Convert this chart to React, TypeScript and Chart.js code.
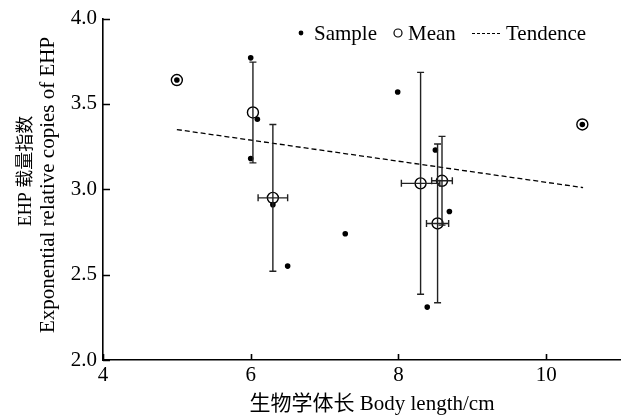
import { useEffect, useRef } from "react";
import { Chart, registerables } from "chart.js";

Chart.register(...registerables);

// ---- data ----
const sampleX = [5.0, 6.0, 6.09, 6.0, 6.3, 6.5, 7.28, 7.99, 8.5, 8.69, 8.39, 10.49];
const sampleY = [3.64, 3.77, 3.41, 3.18, 2.91, 2.55, 2.74, 3.57, 3.23, 2.87, 2.31, 3.38];

const meanX = [5.0, 6.03, 6.3, 8.3, 8.59, 8.53, 10.49];
const meanY = [3.64, 3.45, 2.95, 3.035, 3.05, 2.8, 3.38];
const meanErrX = [0, 0, 0.2, 0.26, 0.14, 0.15, 0];
const meanErrY = [0, 0.295, 0.43, 0.65, 0.26, 0.465, 0];

const trendX = [5.0, 10.5];
const trendY = [3.35, 3.01];

const xTicks = [4, 6, 8, 10];
const yTicks = [2.0, 2.5, 3.0, 3.5, 4.0];

const legendLabels = ["Sample", "Mean", "Tendence"];
const xTitle = "生物学体长 Body length/cm";
const yTitleLines = ["EHP 载量指数", "Exponential relative copies of EHP"];

const SERIF = '"Liberation Serif", "Times New Roman", "Noto Sans CJK SC", serif';

const errorBarPlugin = {
  id: "errorBars",
  afterDatasetsDraw(chart: any) {
    const { ctx, scales } = chart;
    const xs = scales.x;
    const ys = scales.y;
    ctx.save();
    ctx.strokeStyle = "#222";
    ctx.lineWidth = 1.4;
    const cap = 3.5;
    meanX.forEach((mx, i) => {
      const px = xs.getPixelForValue(mx);
      const py = ys.getPixelForValue(meanY[i]);
      if (meanErrY[i] > 0) {
        const top = ys.getPixelForValue(meanY[i] + meanErrY[i]);
        const bot = ys.getPixelForValue(meanY[i] - meanErrY[i]);
        ctx.beginPath();
        ctx.moveTo(px, top);
        ctx.lineTo(px, bot);
        ctx.moveTo(px - cap, top);
        ctx.lineTo(px + cap, top);
        ctx.moveTo(px - cap, bot);
        ctx.lineTo(px + cap, bot);
        ctx.stroke();
      }
      if (meanErrX[i] > 0) {
        const l = xs.getPixelForValue(mx - meanErrX[i]);
        const r = xs.getPixelForValue(mx + meanErrX[i]);
        ctx.beginPath();
        ctx.moveTo(l, py);
        ctx.lineTo(r, py);
        ctx.moveTo(l, py - cap);
        ctx.lineTo(l, py + cap);
        ctx.moveTo(r, py - cap);
        ctx.lineTo(r, py + cap);
        ctx.stroke();
      }
    });
    ctx.restore();
  },
};

const decorPlugin = {
  id: "decor",
  afterDraw(chart: any) {
    const { ctx, scales, chartArea } = chart;
    const xs = scales.x;
    const ys = scales.y;
    ctx.save();
    // inward ticks
    ctx.strokeStyle = "#000";
    ctx.lineWidth = 1.6;
    ctx.beginPath();
    yTicks.forEach((v) => {
      const py = Math.round(ys.getPixelForValue(v)) + 0.5;
      ctx.moveTo(chartArea.left, py);
      ctx.lineTo(chartArea.left + 7, py);
    });
    xTicks.forEach((v) => {
      const px = Math.round(xs.getPixelForValue(v)) + 0.5;
      ctx.moveTo(px, chartArea.bottom);
      ctx.lineTo(px, chartArea.bottom - 6);
    });
    ctx.stroke();

    // axis titles
    ctx.fillStyle = "#000";
    ctx.textAlign = "center";
    ctx.textBaseline = "middle";
    ctx.font = `21px ${SERIF}`;
    ctx.fillText(xTitle, 372, 404);

    ctx.save();
    ctx.translate(26, 171);
    ctx.rotate(-Math.PI / 2);
    ctx.font = `18px ${SERIF}`;
    ctx.fillText(yTitleLines[0], 0, 0);
    ctx.restore();
    ctx.save();
    ctx.translate(48, 185);
    ctx.rotate(-Math.PI / 2);
    ctx.font = `21px ${SERIF}`;
    ctx.fillText(yTitleLines[1], 0, 0);
    ctx.restore();

    // legend
    const ly = 33;
    ctx.font = `21px ${SERIF}`;
    ctx.textAlign = "left";
    ctx.textBaseline = "middle";
    ctx.beginPath();
    ctx.arc(301, ly, 2.4, 0, Math.PI * 2);
    ctx.fill();
    ctx.fillText(legendLabels[0], 314, ly + 1);
    ctx.lineWidth = 1.2;
    ctx.beginPath();
    ctx.arc(398, ly, 4, 0, Math.PI * 2);
    ctx.stroke();
    ctx.fillText(legendLabels[1], 408, ly + 1);
    ctx.setLineDash([3, 2]);
    ctx.beginPath();
    ctx.moveTo(472, ly + 0.5);
    ctx.lineTo(501, ly + 0.5);
    ctx.stroke();
    ctx.setLineDash([]);
    ctx.fillText(legendLabels[2], 506, ly + 1);
    ctx.restore();
  },
};

export default function App() {
  const ref = useRef<HTMLCanvasElement | null>(null);
  useEffect(() => {
    document.body.style.margin = "0";
    const canvas = ref.current;
    if (!canvas) return;
    const chart = new Chart(canvas, {
      type: "scatter",
      data: {
        datasets: [
          {
            label: legendLabels[2],
            type: "line",
            data: trendX.map((x, i) => ({ x, y: trendY[i] })),
            borderColor: "#000",
            borderWidth: 1.3,
            borderDash: [5, 3],
            pointRadius: 0,
            fill: false,
          } as any,
          {
            label: legendLabels[0],
            data: sampleX.map((x, i) => ({ x, y: sampleY[i] })),
            backgroundColor: "#000",
            borderColor: "#000",
            pointRadius: 2.8,
            borderWidth: 0,
          },
          {
            label: legendLabels[1],
            data: meanX.map((x, i) => ({ x, y: meanY[i] })),
            backgroundColor: "rgba(0,0,0,0)",
            borderColor: "#000",
            pointRadius: 5.5,
            borderWidth: 1.4,
          },
        ],
      },
      options: {
        animation: false,
        responsive: false,
        devicePixelRatio: 1,
        layout: { padding: { top: 15, right: 7, left: 0, bottom: 0 } },
        plugins: { legend: { display: false }, tooltip: { enabled: false } },
        scales: {
          x: {
            type: "linear",
            min: 4,
            max: 11,
            afterBuildTicks: (s: any) => {
              s.ticks = xTicks.map((v) => ({ value: v }));
            },
            afterFit: (s: any) => {
              s.height = 57;
            },
            grid: { display: false, drawTicks: false },
            border: { display: true, color: "#000", width: 1.6 },
            ticks: {
              color: "#000",
              font: { family: SERIF, size: 21 },
              padding: 3,
              maxRotation: 0,
              callback: (v: any) => String(v),
            },
          },
          y: {
            type: "linear",
            min: 2,
            max: 4,
            afterBuildTicks: (s: any) => {
              s.ticks = yTicks.map((v) => ({ value: v }));
            },
            afterFit: (s: any) => {
              s.width = 103;
            },
            grid: { display: false, drawTicks: false },
            border: { display: true, color: "#000", width: 1.6 },
            ticks: {
              color: "#000",
              font: { family: SERIF, size: 21 },
              padding: 6,
              callback: (v: any) => Number(v).toFixed(1),
            },
          },
        },
      },
      plugins: [errorBarPlugin, decorPlugin],
    });
    return () => chart.destroy();
  }, []);
  return (
    <div style={{ width: 627, height: 417, overflow: "hidden", background: "#fff" }}>
      <canvas ref={ref} width={627} height={417} style={{ display: "block" }} />
    </div>
  );
}
